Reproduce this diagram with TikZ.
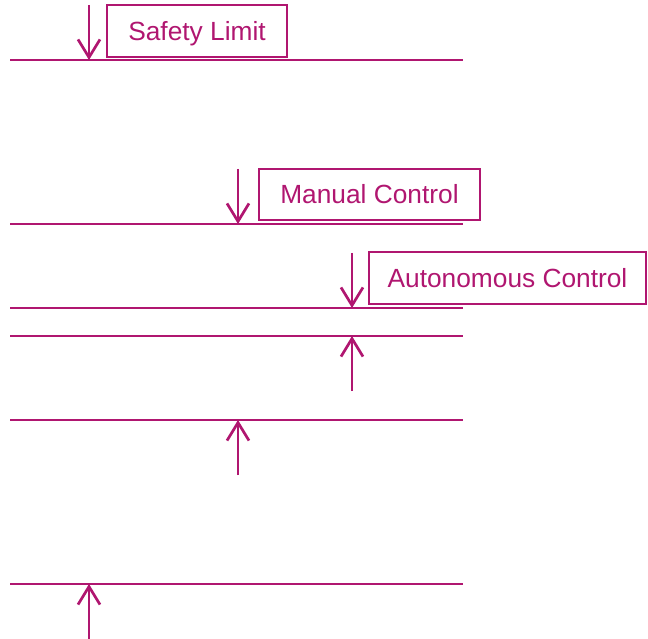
\documentclass[tikz,border=0pt]{standalone}
\usepackage{fontspec}
\setmainfont{Liberation Sans}
\usetikzlibrary{arrows.meta}
\definecolor{limitmag}{RGB}{176,22,112}
\begin{document}
\begin{tikzpicture}[x=1pt,y=-1pt,
  level/.style={draw=limitmag,line width=2.7pt},
  marker/.style={draw=limitmag,line width=2.7pt,-{Straight Barb[length=18pt,width=22pt,line width=2.7pt]}},
  tag/.style={draw=limitmag,line width=2.7pt,text=limitmag,rectangle,inner sep=0pt,
    font=\fontsize{26.3}{31}\selectfont,text height=18.8pt,text depth=0pt}]
\useasboundingbox (0,0) rectangle (648,639);
% horizontal levels
\foreach \n/\y in {a/60,b/224,c/308,d/336,e/420,f/584}{
  \coordinate (\n L) at (10,\y);
  \coordinate (\n R) at (463,\y);
  \draw[level] (\n L) -- (\n R);
}
% labels
\node[tag,minimum width=180pt,minimum height=52pt] (safety) at (197,31) {Safety Limit};
\node[tag,minimum width=221pt,minimum height=51pt] (manual) at (369.5,194.5) {Manual Control};
\node[tag,minimum width=277pt,minimum height=52pt] (auto) at (507.5,278) {Autonomous Control};
% arrow anchors
\coordinate (a0) at (89,5);    \coordinate (a1) at (89,60);
\coordinate (b0) at (238,169); \coordinate (b1) at (238,224);
\coordinate (c0) at (352,253); \coordinate (c1) at (352,308);
\coordinate (d0) at (352,391); \coordinate (d1) at (352,336);
\coordinate (e0) at (238,475); \coordinate (e1) at (238,420);
\coordinate (f0) at (89,639);  \coordinate (f1) at (89,584);
\foreach \n in {a,b,c,d,e,f}{
  \draw[marker] (\n0) -- (\n1);
}
\end{tikzpicture}
\end{document}
